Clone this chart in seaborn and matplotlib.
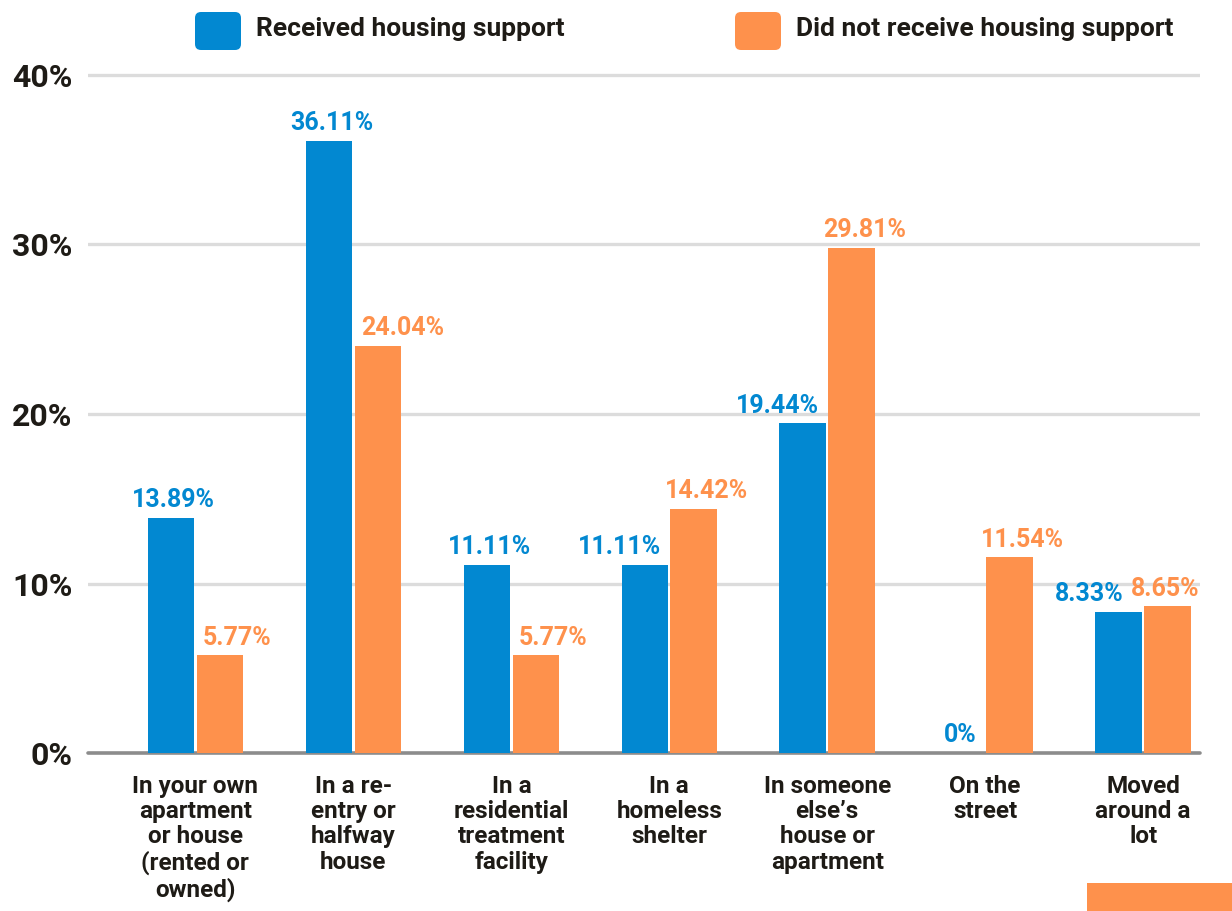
import matplotlib
matplotlib.use("Agg")
import matplotlib.pyplot as plt
from matplotlib.patches import FancyBboxPatch, Rectangle
from matplotlib.transforms import IdentityTransform
import seaborn as sns
import pandas as pd

# --- data -------------------------------------------------------------
categories = [
    "In your own\napartment\nor house\n(rented or\nowned)",
    "In a re-\nentry or\nhalfway\nhouse",
    "In a\nresidential\ntreatment\nfacility",
    "In a\nhomeless\nshelter",
    "In someone\nelse\u2019s\nhouse or\napartment",
    "On the\nstreet",
    "Moved\naround a\nlot",
]
groups = ["Received housing support", "Did not receive housing support"]
received = [13.89, 36.11, 11.11, 11.11, 19.44, 0, 8.33]
not_received = [5.77, 24.04, 5.77, 14.42, 29.81, 11.54, 8.65]
y_ticks = [0, 10, 20, 30, 40]

# --- style ------------------------------------------------------------
BLUE = "#0288d1"
ORANGE = "#fe914c"
TEXT = "#1e1b16"

sns.set_style("white")
plt.rcParams["font.family"] = ["Roboto", "DejaVu Sans"]

df = pd.DataFrame({
    "category": categories * 2,
    "group": [groups[0]] * len(categories) + [groups[1]] * len(categories),
    "value": received + not_received,
})

W, H = 1232, 911
fig = plt.figure(figsize=(W / 100, H / 100), dpi=100)
fig.patch.set_facecolor("white")

# axes box in pixels: y=0 at 753px, 10 units = 169.5px
ppu = 16.95
y_lo, y_hi = -0.3, 40.5
bottom_px = 753 + (0 - y_lo) * ppu
top_px = 75 - (y_hi - 40) * ppu
ax = fig.add_axes([88 / W, (H - bottom_px) / H, (1200 - 88) / W,
                   (bottom_px - top_px) / H])

sns.barplot(data=df, x="category", y="value", hue="group",
            palette=[BLUE, ORANGE], width=0.62, gap=0.05, saturation=1,
            legend=False, ax=ax, zorder=3, linewidth=0, edgecolor="none")

ax.set_xlim(-0.68, 6.36)
ax.set_ylim(y_lo, y_hi)
sns.despine(ax=ax, left=True, bottom=True)

# gridlines and baseline
for t in y_ticks[1:]:
    ax.axhline(t, color="#dcdcdc", lw=2.4, zorder=1)
ax.axhline(0, color="#8c8c8c", lw=2.6, zorder=2, clip_on=False)

ax.set_yticks(y_ticks)
ax.set_yticklabels([f"{t}%" for t in y_ticks])
ax.tick_params(axis="y", length=0, pad=11, labelsize=23, labelcolor=TEXT)
for lbl in ax.get_yticklabels():
    lbl.set_fontweight("bold")

ax.tick_params(axis="x", length=0, pad=12, labelsize=17.5, labelcolor=TEXT)
for lbl in ax.get_xticklabels():
    lbl.set_fontweight("bold")
    lbl.set_multialignment("center")
    lbl.set_linespacing(1.13)
ax.set_xlabel("")
ax.set_ylabel("")

# value labels above bars
colors = [BLUE, ORANGE]
series = [received, not_received]
labels = []
for ci, cont in enumerate(ax.containers):
    for i, bar in enumerate(cont):
        v = series[ci][i]
        t = ax.annotate(f"{v:g}%",
                        xy=(bar.get_x() + bar.get_width() / 2, v),
                        xytext=(0, 4), textcoords="offset points",
                        ha="center", va="bottom", fontsize=18,
                        fontweight="bold", color=colors[ci], zorder=5)
        labels.append((ci, i, bar, t))

# keep each label clear of the neighbouring bar and inside the plot area
fig.canvas.draw()
renderer = fig.canvas.get_renderer()
ax_box = ax.get_window_extent(renderer)
centers = {}
for ci, i, bar, t in labels:
    other = ax.containers[1 - ci][i]
    tb = t.get_window_extent(renderer)
    bb = bar.get_window_extent(renderer)
    ob = other.get_window_extent(renderer)
    half = tb.width / 2
    cx = (bb.x0 + bb.x1) / 2
    if ob.y1 > bb.y1:
        # neighbour is taller: push the label away from it
        if ci == 0:
            cx = min(cx, ob.x0 - 9 - half)
        else:
            cx = max(cx, ob.x1 + 9 + half)
    else:
        cx += 3 if ci == 0 else 13
    cx = min(cx, ax_box.x1 - half)
    centers[(ci, i)] = (cx, half, tb.y0, tb.y1, (bb.x0 + bb.x1) / 2)

# separate label pairs that would still run into each other
for i in range(len(categories)):
    b = centers[(0, i)]
    o = centers[(1, i)]
    vert = b[2] < o[3] and o[2] < b[3]
    gap = (o[0] - o[1]) - (b[0] + b[1])
    if vert and gap < 8:
        centers[(0, i)] = (b[0] - (8 - gap),) + b[1:]

for ci, i, bar, t in labels:
    cx, _, _, _, bx = centers[(ci, i)]
    t.set_position(((cx - bx) * 72 / fig.dpi, 4))

# legend drawn in pixel coordinates
ident = IdentityTransform()
legend_items = [(195, groups[0], BLUE), (735, groups[1], ORANGE)]
for x0, label, col in legend_items:
    fig.add_artist(FancyBboxPatch((x0, H - 50), 46, 38,
                                  boxstyle="round,pad=0,rounding_size=6",
                                  transform=ident, facecolor=col,
                                  edgecolor="none"))
    fig.text((x0 + 61) / W, (H - 29) / H, label, ha="left", va="center",
             fontsize=19, fontweight="bold", color=TEXT)

# accent block in the lower right corner
fig.add_artist(Rectangle((1087, 0), 145, 28, transform=ident,
                         facecolor=ORANGE, edgecolor="none"))

fig.savefig("out.png", dpi=100, facecolor="white")
